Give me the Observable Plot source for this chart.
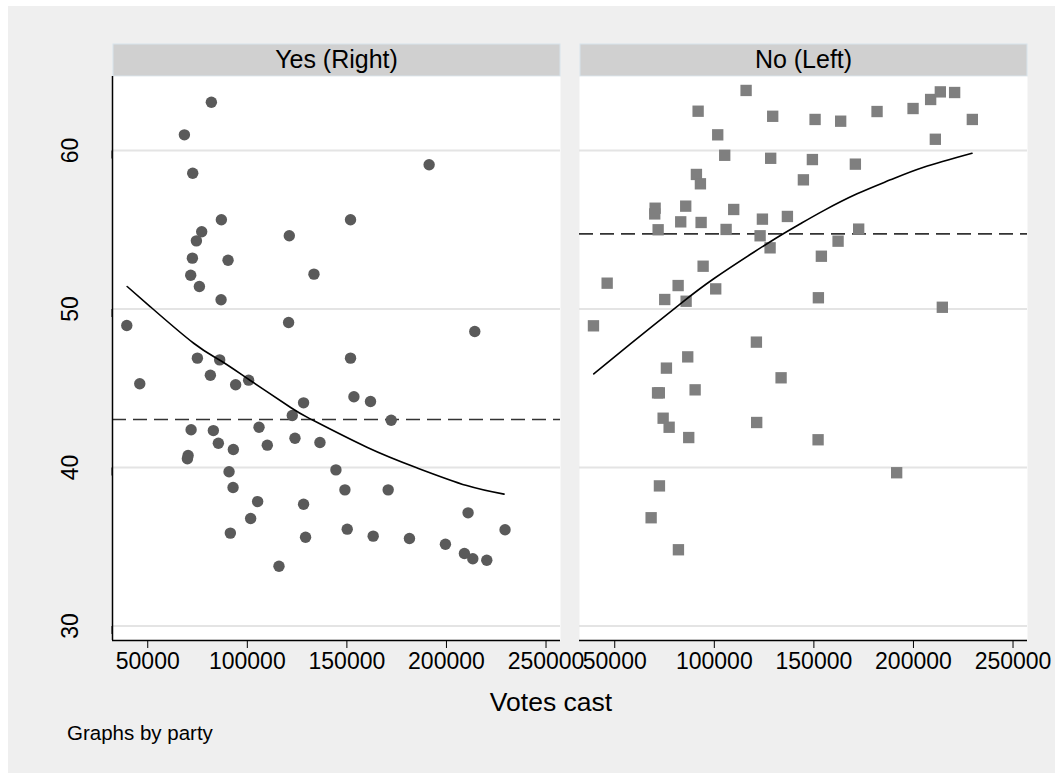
<!DOCTYPE html>
<html><head><meta charset="utf-8">
<script src="https://cdn.jsdelivr.net/npm/d3@7"></script>
<script src="https://cdn.jsdelivr.net/npm/@observablehq/plot@0.6"></script>
<style>
html,body{margin:0;padding:0;background:#fff;}
#wrap{position:relative;width:1055px;height:773px;overflow:hidden;font-family:"Liberation Sans",Arial,Helvetica,sans-serif;}
#bg{position:absolute;left:8px;top:6px;right:0;bottom:0;background:#efefef;}
#chart{position:absolute;left:0;top:0;}
.lbl{position:absolute;color:#000;white-space:nowrap;line-height:1;}
#xlab{left:551px;top:689px;font-size:26.5px;transform:translateX(-50%);}
#note{left:67px;top:723px;font-size:20.5px;}
</style></head><body>
<div id="wrap"><div id="bg"></div><div id="chart"></div>
<div class="lbl" id="xlab">Votes cast</div>
<div class="lbl" id="note">Graphs by party</div>
</div>
<script>
// ---- data ----
const panels = ["Yes (Right)", "No (Left)"];
const xTicks = [50000, 100000, 150000, 200000, 250000];
const yTicks = [30, 40, 50, 60];

const yesVotes = [81950, 68400, 72580, 191300, 86970, 151830, 77090, 74430, 121080, 72420,
  90330, 133470, 71570, 75930, 86820, 39470, 120730, 214220, 45990, 74930,
  86120, 81450, 94140, 100660, 151830, 153530, 161860, 128250, 122580, 172240,
  71770, 82950, 105880, 85460, 92990, 110040, 123930, 136470, 70260, 69910,
  90830, 144500, 92840, 149010, 170740, 105180, 128250, 101670, 210860, 150170,
  229420, 91480, 129250, 163210, 181420, 199480, 209010, 213230, 220250, 115910];
const yesPct = [63.05, 60.99, 58.57, 59.1, 55.63, 55.63, 54.87, 54.30, 54.62, 53.21,
  53.08, 52.2, 52.13, 51.42, 50.58, 48.96, 49.15, 48.58, 45.28, 46.9,
  46.79, 45.82, 45.22, 45.51, 46.9, 44.46, 44.16, 44.08, 43.28, 42.98,
  42.38, 42.33, 42.54, 41.53, 41.14, 41.41, 41.85, 41.58, 40.76, 40.55,
  39.73, 39.85, 38.74, 38.59, 38.59, 37.85, 37.68, 36.78, 37.14, 36.11,
  36.07, 35.86, 35.6, 35.67, 35.52, 35.16, 34.57, 34.24, 34.15, 33.77];

const noVotes = [115960, 91870, 129320, 150600, 163450, 181720, 199800, 208630, 213500, 220680,
  229570, 210990, 101710, 105220, 128310, 149250, 170830, 91010, 93020, 144730,
  70280, 70080, 85640, 109740, 83130, 93370, 124150, 136700, 71790, 105920,
  172490, 122990, 128010, 162150, 153760, 94380, 46190, 81830, 100700, 75100,
  85840, 152260, 214500, 39310, 121130, 86650, 75950, 133530, 71500, 72400,
  90360, 74300, 77310, 87150, 121280, 152110, 191560, 72440, 68270, 81980];
const noPct = [63.79, 62.48, 62.16, 61.96, 61.85, 62.46, 62.65, 63.22, 63.7, 63.66,
  61.96, 60.71, 60.99, 59.7, 59.51, 59.43, 59.14, 58.49, 57.9, 58.15,
  56.36, 56.0, 56.49, 56.28, 55.5, 55.46, 55.67, 55.84, 55.0, 55.02,
  55.04, 54.62, 53.86, 54.28, 53.33, 52.7, 51.63, 51.48, 51.27, 50.6,
  50.49, 50.71, 50.11, 48.94, 47.91, 46.98, 46.27, 45.66, 44.71, 44.71,
  44.9, 43.11, 42.54, 41.89, 42.84, 41.75, 39.67, 38.84, 36.83, 34.81];

// fitted (quadratic) curves
const yesFitVotes = [39670, 51350, 73070, 86470, 101510, 121580, 131610, 160050, 185130, 210210, 228920];
const yesFitPct = [51.42, 50.14, 47.84, 46.75, 45.49, 43.80, 43.07, 41.28, 39.98, 38.86, 38.32];
const noFitVotes = [39460, 57880, 82960, 99700, 119780, 133180, 143220, 154920, 171690, 188410, 205120, 229410];
const noFitPct = [45.91, 47.80, 50.33, 51.91, 53.58, 54.64, 55.38, 56.21, 57.27, 58.15, 58.95, 59.83];

// mean lines
const meanPct = [43.03, 54.74];

// ---- tables ----
const yesRows = yesVotes.map((v, i) => ({party: panels[0], votes: v, pct: yesPct[i]}));
const noRows = noVotes.map((v, i) => ({party: panels[1], votes: v, pct: noPct[i]}));
const fitRows = [
  ...yesFitVotes.map((v, i) => ({party: panels[0], votes: v, pct: yesFitPct[i]})),
  ...noFitVotes.map((v, i) => ({party: panels[1], votes: v, pct: noFitPct[i]}))
];
const meanRows = panels.map((p, i) => ({party: p, pct: meanPct[i]}));
const headerRows = panels.map(p => ({party: p}));

const font = "Liberation Sans, Arial, Helvetica, sans-serif";

const chart = Plot.plot({
  width: 1055,
  height: 773,
  marginLeft: 112,
  marginRight: 27,
  marginTop: 76,
  marginBottom: 133,
  style: {fontFamily: font, background: "transparent", overflow: "visible", color: "#000"},
  fx: {domain: panels, paddingInner: 0.0406, paddingOuter: 0, axis: null, label: null},
  x: {domain: [32300, 257270], label: null, axis: null},
  y: {domain: [29.085, 64.67], label: null, axis: null},
  marks: [
    Plot.frame({fill: "white", stroke: "none"}),
    Plot.gridY(yTicks, {stroke: "#e4e4e4", strokeOpacity: 1, strokeWidth: 1.8}),
    Plot.ruleY(meanRows, {y: "pct", fx: "party", stroke: "#333", strokeWidth: 1.6, strokeDasharray: "14,7"}),
    Plot.dot(yesRows, {x: "votes", y: "pct", fx: "party", r: 5.7, fill: "#5a5a5a", stroke: "none", symbol: "circle"}),
    Plot.dot(noRows, {x: "votes", y: "pct", fx: "party", r: 6.4, fill: "#7f7f7f", stroke: "none", symbol: "square"}),
    Plot.line(fitRows, {x: "votes", y: "pct", fx: "party", z: "party", stroke: "#000", strokeWidth: 1.6, curve: "natural"}),
    Plot.ruleX([panels[0]], {x: () => 32300, fx: d => d, stroke: "#000", strokeWidth: 1.5}),
    Plot.ruleY([29.085], {stroke: "#000", strokeWidth: 1.5}),
    Plot.axisX({ticks: xTicks, tickSize: 8, tickPadding: 4, tickFormat: d3.format("d"), fontSize: 23, label: null, stroke: "#000"}),
    Plot.axisY({ticks: yTicks, tickSize: 8, tickPadding: 34, tickFormat: d3.format("d"), fontSize: 23, label: null,
      rotate: -90, textAnchor: "middle", lineAnchor: "middle", stroke: "#000"}),
    Plot.text(headerRows, {fx: "party", text: "party", frameAnchor: "top", dy: -17, fontSize: 25, fill: "#000", lineAnchor: "middle"})
  ]
});

document.getElementById("chart").appendChild(chart);

// facet header boxes, placed above each facet frame
const svg = chart.tagName.toLowerCase() === "svg" ? chart : chart.querySelector("svg");
const svgBox = svg.getBoundingClientRect();
const frames = [];
svg.querySelectorAll('[aria-label="frame"]').forEach(el => {
  if (el.tagName.toLowerCase() === "rect") frames.push(el);
  el.querySelectorAll("rect").forEach(r => frames.push(r));
});
const ns = "http://www.w3.org/2000/svg";
frames.forEach(r => {
  const b = r.getBoundingClientRect();
  const hdr = document.createElementNS(ns, "rect");
  hdr.setAttribute("x", b.left - svgBox.left + 0.5);
  hdr.setAttribute("y", b.top - svgBox.top - 32.5);
  hdr.setAttribute("width", b.width - 1);
  hdr.setAttribute("height", 32);
  hdr.setAttribute("fill", "#d0d0d0");
  hdr.setAttribute("stroke", "#d8e4ec");
  hdr.setAttribute("stroke-width", 1);
  const first = Array.from(svg.children).find(c => c.tagName.toLowerCase() !== "style");
  svg.insertBefore(hdr, first);
});
</script>
</body></html>
